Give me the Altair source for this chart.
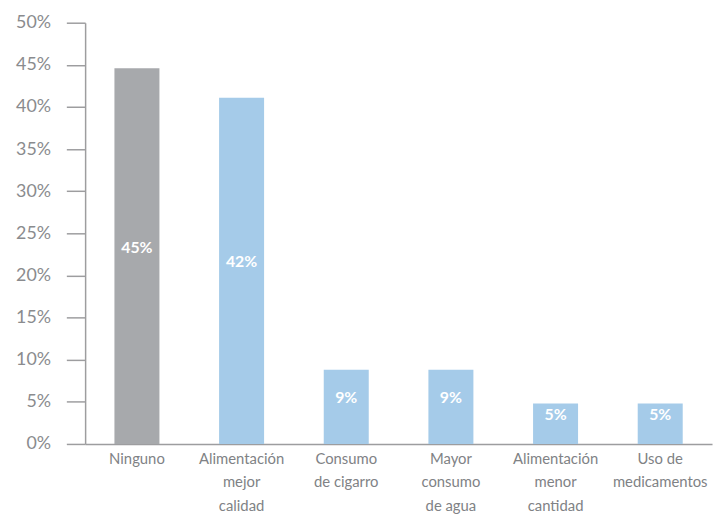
import altair as alt
import pandas as pd

categories = ["Ninguno", "Alimentación|mejor|calidad", "Consumo|de cigarro",
              "Mayor|consumo|de agua", "Alimentación|menor|cantidad", "Uso de|medicamentos"]
values = [44.6, 41.1, 8.8, 8.8, 4.8, 4.8]
labels = ["45%", "42%", "9%", "9%", "5%", "5%"]
groups = ["gris", "azul", "azul", "azul", "azul", "azul"]

df = pd.DataFrame({"cat": categories, "val": values, "lab": labels, "grp": groups})
df["mid"] = df["val"] / 2 + 1

FONT = "Lato"

x = alt.X("cat:N", sort=categories, title=None,
          scale=alt.Scale(paddingInner=0.57, paddingOuter=0.28),
          axis=alt.Axis(labelExpr="split(datum.label, '|')", labelAngle=0,
                        labelFontSize=15, labelColor="#808285", labelFont=FONT,
                        labelLineHeight=23.5, labelPadding=8, ticks=False,
                        domainColor="#9d9d9f", domainWidth=1.5, labelBaseline="top"))

bars = alt.Chart(df).mark_bar().encode(
    x=x,
    y=alt.Y("val:Q", title=None,
            scale=alt.Scale(domain=[0, 50], nice=False),
            axis=alt.Axis(values=list(range(0, 51, 5)), labelExpr="datum.value + '%'",
                          labelFontSize=18, labelColor="#8a8b8e", labelFont=FONT,
                          tickSize=19, tickColor="#9d9d9f", tickWidth=1.5,
                          domainColor="#9d9d9f", domainWidth=1.5, grid=False,
                          labelPadding=16)),
    color=alt.Color("grp:N", scale=alt.Scale(domain=["gris", "azul"],
                                             range=["#a7a9ac", "#a5cbe9"]), legend=None),
)

text = alt.Chart(df).mark_text(color="white", fontWeight="bold", fontSize=16, font=FONT).encode(
    x=alt.X("cat:N", sort=categories),
    y=alt.Y("mid:Q"),
    text="lab:N",
)

chart = alt.layer(bars, text).properties(
    width=634, height=426,
    background="white",
    autosize=alt.AutoSizeParams(type="none"),
    padding={"left": 78, "top": 12, "right": 2, "bottom": 70},
).configure_view(stroke=None, strokeWidth=0)

chart.save("out.html", embed_options={"renderer": "svg", "actions": False})
